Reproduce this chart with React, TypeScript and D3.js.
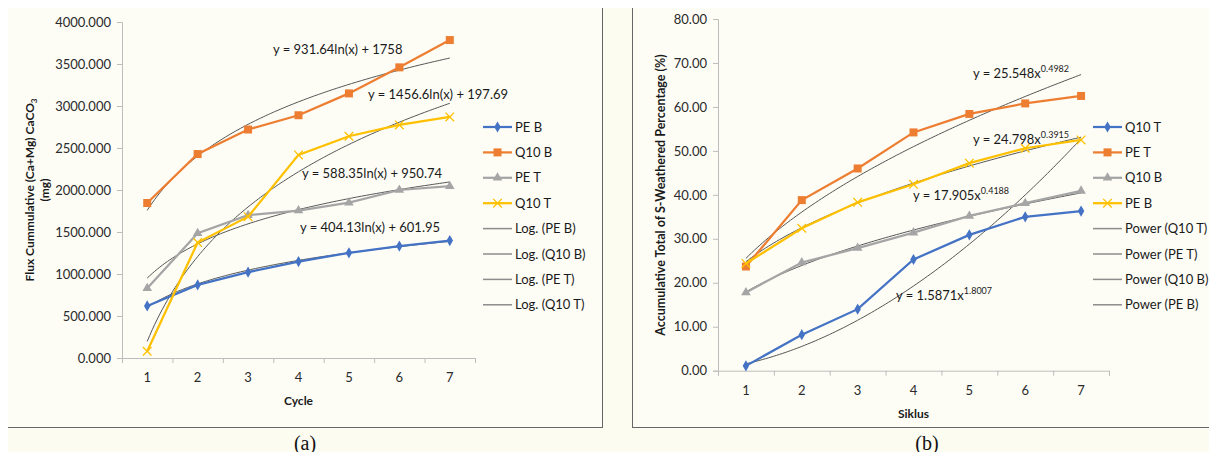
import React, { useEffect, useRef } from "react";
import * as d3 from "d3";

// ---- data ----
const cycles = [1, 2, 3, 4, 5, 6, 7];

// panel (a): Flux cumulative (mg)
const fluxPEB = [620, 870, 1022, 1148, 1252, 1332, 1398];
const fluxQ10B = [1845, 2428, 2720, 2890, 3150, 3460, 3785];
const fluxPET = [830, 1485, 1700, 1755, 1850, 2000, 2045];
const fluxQ10T = [80, 1375, 1682, 2418, 2640, 2775, 2870];
const fluxTicks = [0, 500, 1000, 1500, 2000, 2500, 3000, 3500, 4000];

// log trend coefficients printed on the chart: y = a ln(x) + b
const logFits = [
  { name: "Log. (PE B)", a: 404.13, b: 601.95 },
  { name: "Log. (Q10 B)", a: 931.64, b: 1758 },
  { name: "Log. (PE T)", a: 588.35, b: 950.74 },
  { name: "Log. (Q10 T)", a: 1456.6, b: 197.69 },
];

// panel (b): accumulative S-weathered percentage
const pctQ10T = [1.1, 8.2, 14.0, 25.3, 30.9, 35.0, 36.3];
const pctPET = [23.7, 38.8, 46.0, 54.2, 58.4, 60.8, 62.5];
const pctQ10B = [17.8, 24.6, 27.9, 31.4, 35.2, 38.1, 40.9];
const pctPEB = [24.4, 32.4, 38.3, 42.4, 47.2, 50.6, 52.5];
const pctTicks = [0, 10, 20, 30, 40, 50, 60, 70, 80];

// power trend coefficients printed on the chart: y = a x^b
const powFits = [
  { name: "Power (Q10 T)", a: 1.5871, b: 1.8007 },
  { name: "Power (PE T)", a: 25.548, b: 0.4982 },
  { name: "Power (Q10 B)", a: 17.905, b: 0.4188 },
  { name: "Power (PE B)", a: 24.798, b: 0.3915 },
];

const BLUE = "#4472c4";
const ORANGE = "#ed7d31";
const GRAY = "#a5a5a5";
const YELLOW = "#ffc000";
const FONT = "Lato, 'Open Sans', sans-serif";

function App() {
  const ref = useRef(null);

  useEffect(() => {
    const svg = d3.select(ref.current);
    svg.selectAll("*").remove();

    svg.append("rect").attr("width", 1217).attr("height", 460).attr("fill", "#fcfcf1");

    // frames
    svg.append("rect").attr("x", 7.5).attr("y", 5.5).attr("width", 595).attr("height", 422)
      .attr("fill", "#fdfdf6").attr("stroke", "#666");
    svg.append("rect").attr("x", 632.5).attr("y", 5.5).attr("width", 600).attr("height", 422)
      .attr("fill", "#fdfdf6").attr("stroke", "#666");

    const markerPath = (kind) => {
      if (kind === "diamond") return d3.symbol(d3.symbolDiamond, 36)();
      if (kind === "square") return d3.symbol(d3.symbolSquare, 64)();
      if (kind === "triangle") return d3.symbol(d3.symbolTriangle, 40)();
      return d3.symbol(d3.symbolX, 50)();
    };

    const drawPanel = (cfg) => {
      const x = d3.scaleLinear().domain([0.5, 7.5]).range(cfg.xRange);
      const y = d3.scaleLinear().domain(cfg.yDomain).range(cfg.yRange);
      const g = svg.append("g");

      // axes
      const yAxis = g.append("g")
        .attr("transform", `translate(${cfg.xRange[0]},0)`)
        .call(d3.axisLeft(y).tickValues(cfg.yTicks).tickSize(5).tickPadding(6)
          .tickFormat(d3.format(cfg.fmt)));
      const xAxis = g.append("g")
        .attr("transform", `translate(0,${cfg.yRange[0]})`)
        .call(d3.axisBottom(x).tickValues(d3.range(0.5, 8, 1)).tickSize(5).tickFormat(""));
      [yAxis, xAxis].forEach((ax) => {
        ax.select(".domain").attr("stroke", "#bdbdbd");
        ax.selectAll(".tick line").attr("stroke", "#bdbdbd");
        ax.selectAll("text").attr("font-family", FONT).attr("font-size", 13).attr("fill", "#2a2a2a");
      });
      g.selectAll(".xlab").data(cycles).join("text")
        .attr("x", (d) => x(d)).attr("y", cfg.yRange[0] + 24)
        .attr("text-anchor", "middle").attr("font-family", FONT).attr("font-size", 13).attr("fill", "#2a2a2a")
        .text((d) => d);

      // trend lines
      const xs = d3.range(1, 7.001, 0.05);
      const line = d3.line().x((d) => x(d[0])).y((d) => y(d[1])).curve(d3.curveMonotoneX);
      cfg.fits.forEach((f) => {
        g.append("path").datum(xs.map((v) => [v, cfg.fitFn(f, v)]))
          .attr("d", line).attr("fill", "none").attr("stroke", "#555").attr("stroke-width", 1);
      });

      // series
      const sLine = d3.line().x((d, i) => x(cycles[i])).y((d) => y(d));
      cfg.series.forEach((s) => {
        g.append("path").datum(s.values).attr("d", sLine).attr("fill", "none")
          .attr("stroke", s.color).attr("stroke-width", 2.25);
        g.selectAll(null).data(s.values).join("path")
          .attr("transform", (d, i) => `translate(${x(cycles[i])},${y(d)})`)
          .attr("d", markerPath(s.marker))
          .attr("fill", s.marker === "x" ? "none" : s.color)
          .attr("stroke", s.marker === "x" ? s.color : "none").attr("stroke-width", 1.3);
      });

      // equations
      cfg.equations.forEach((e) => {
        const t = g.append("text").attr("x", e.x).attr("y", e.y)
          .attr("font-family", FONT).attr("font-size", 13).attr("fill", "#1a1a1a").text(e.text);
        if (e.sup) t.append("tspan").attr("dy", -6).attr("font-size", 9).text(e.sup);
      });

      // legend
      const lg = g.append("g");
      cfg.legend.forEach((l, i) => {
        const ly = cfg.legendY + i * 25.4;
        lg.append("line").attr("x1", cfg.legendX).attr("x2", cfg.legendX + 29)
          .attr("y1", ly).attr("y2", ly)
          .attr("stroke", l.color).attr("stroke-width", l.marker ? 2.25 : 1.5);
        if (l.marker) {
          lg.append("path").attr("transform", `translate(${cfg.legendX + 14.5},${ly})`)
            .attr("d", markerPath(l.marker))
            .attr("fill", l.marker === "x" ? "none" : l.color)
            .attr("stroke", l.marker === "x" ? l.color : "none").attr("stroke-width", 1.3);
        }
        lg.append("text").attr("x", cfg.legendX + 32).attr("y", ly + 4.5)
          .attr("font-family", FONT).attr("font-size", 13).attr("fill", "#1a1a1a").text(l.name);
      });

      // titles
      g.append("text").attr("x", (cfg.xRange[0] + cfg.xRange[1]) / 2).attr("y", cfg.xTitleY)
        .attr("text-anchor", "middle").attr("font-family", FONT).attr("font-weight", "bold")
        .attr("font-size", 12).attr("fill", "#1a1a1a").text(cfg.xTitle);
      cfg.yTitle(g);
    };

    drawPanel({
      xRange: [122, 475],
      yRange: [358, 22],
      yDomain: [0, 4000],
      yTicks: fluxTicks,
      fmt: ".3f",
      fits: logFits,
      fitFn: (f, v) => f.a * Math.log(v) + f.b,
      series: [
        { values: fluxPEB, color: BLUE, marker: "diamond" },
        { values: fluxQ10B, color: ORANGE, marker: "square" },
        { values: fluxPET, color: GRAY, marker: "triangle" },
        { values: fluxQ10T, color: YELLOW, marker: "x" },
      ],
      equations: [
        { text: "y = 931.64ln(x) + 1758", x: 273, y: 54 },
        { text: "y = 1456.6ln(x) + 197.69", x: 368, y: 99 },
        { text: "y = 588.35ln(x) + 950.74", x: 302, y: 178 },
        { text: "y = 404.13ln(x) + 601.95", x: 300, y: 232 },
      ],
      legendX: 483,
      legendY: 127,
      legend: [
        { name: "PE B", color: BLUE, marker: "diamond" },
        { name: "Q10 B", color: ORANGE, marker: "square" },
        { name: "PE T", color: GRAY, marker: "triangle" },
        { name: "Q10 T", color: YELLOW, marker: "x" },
        ...logFits.map((f) => ({ name: f.name, color: "#8c8c8c" })),
      ],
      xTitle: "Cycle",
      xTitleY: 405,
      yTitle: (g) => {
        const t = g.append("text").attr("transform", "translate(34,190) rotate(-90)")
          .attr("text-anchor", "middle").attr("font-family", FONT).attr("font-weight", "bold")
          .attr("font-size", 12).attr("fill", "#1a1a1a");
        t.append("tspan").text("Flux Cummulative (Ca+Mg) CaCO");
        t.append("tspan").attr("font-size", 8).attr("dy", 3).text("3");
        g.append("text").attr("transform", "translate(49,190) rotate(-90)")
          .attr("text-anchor", "middle").attr("font-family", FONT).attr("font-weight", "bold")
          .attr("font-size", 12).attr("fill", "#1a1a1a").text("(mg)");
      },
    });

    drawPanel({
      xRange: [718, 1109],
      yRange: [370.7, 19],
      yDomain: [0, 80],
      yTicks: pctTicks,
      fmt: ".2f",
      fits: powFits,
      fitFn: (f, v) => f.a * Math.pow(v, f.b),
      series: [
        { values: pctQ10T, color: BLUE, marker: "diamond" },
        { values: pctPET, color: ORANGE, marker: "square" },
        { values: pctQ10B, color: GRAY, marker: "triangle" },
        { values: pctPEB, color: YELLOW, marker: "x" },
      ],
      equations: [
        { text: "y = 25.548x", sup: "0.4982", x: 973, y: 78 },
        { text: "y = 24.798x", sup: "0.3915", x: 973, y: 144 },
        { text: "y = 17.905x", sup: "0.4188", x: 913, y: 200 },
        { text: "y = 1.5871x", sup: "1.8007", x: 896, y: 300 },
      ],
      legendX: 1093,
      legendY: 127,
      legend: [
        { name: "Q10 T", color: BLUE, marker: "diamond" },
        { name: "PE T", color: ORANGE, marker: "square" },
        { name: "Q10 B", color: GRAY, marker: "triangle" },
        { name: "PE B", color: YELLOW, marker: "x" },
        ...powFits.map((f) => ({ name: f.name, color: "#8c8c8c" })),
      ],
      xTitle: "Siklus",
      xTitleY: 418,
      yTitle: (g) => {
        g.append("text").attr("transform", "translate(665,195) rotate(-90)")
          .attr("text-anchor", "middle").attr("font-family", FONT).attr("font-weight", "bold")
          .attr("font-size", 12.5).attr("fill", "#1a1a1a")
          .text("Accumulative Total of S-Weathered Percentage (%)");
      },
    });

    // captions
    svg.append("text").attr("x", 305).attr("y", 450).attr("text-anchor", "middle")
      .attr("font-family", "'Liberation Serif', 'DejaVu Serif', serif").attr("font-size", 20)
      .attr("fill", "#111").text("(a)");
    svg.append("text").attr("x", 927).attr("y", 450).attr("text-anchor", "middle")
      .attr("font-family", "'Liberation Serif', 'DejaVu Serif', serif").attr("font-size", 20)
      .attr("fill", "#111").text("(b)");
  }, []);

  return (
    <svg ref={ref} width={1217} height={460} style={{ display: "block", margin: "-8px" }} />
  );
}

export default App;
